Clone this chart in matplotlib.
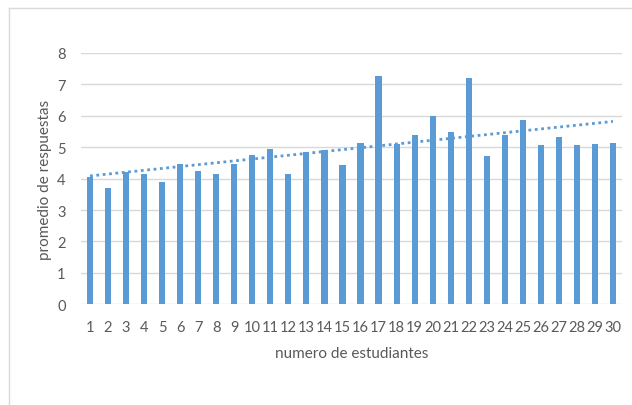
import numpy as np
import matplotlib.pyplot as plt
from matplotlib.lines import Line2D

plt.rcParams['font.family'] = ['Lato', 'DejaVu Sans']

# promedio de respuestas por estudiante
estudiantes = list(range(1, 31))
promedio = [4.04, 3.69, 4.20, 4.16, 3.88, 4.46, 4.25, 4.16, 4.48, 4.75,
            4.94, 4.16, 4.86, 4.91, 4.43, 5.12, 7.26, 5.10, 5.40, 5.98,
            5.49, 7.20, 4.72, 5.38, 5.87, 5.08, 5.33, 5.08, 5.10, 5.14]

azul = '#5B9BD5'
gris_texto = '#595959'

fig = plt.figure(figsize=(6.32, 4.06), dpi=100)
ax = fig.add_axes([81 / 632, 1 - 305.3 / 406, (622 - 81) / 632, (305.3 - 54) / 406])

x = np.array(estudiantes)
y = np.array(promedio)
ax.bar(x, y, width=0.34, color=azul, zorder=2)

# linea de tendencia lineal
m, b = np.polyfit(x, y, 1)
ax.plot([x[0], x[-1]], [m * x[0] + b, m * x[-1] + b], color=azul,
        lw=2, linestyle=(0, (1, 1.3)), zorder=3)

ax.set_xlim(0.5, 30.5)
ax.set_ylim(0, 8)
ax.set_yticks(range(0, 9))
ax.set_xticks(x)
ax.set_xticklabels([str(v) for v in estudiantes])
ax.grid(axis='y', color='#D9D9D9', lw=1, zorder=0)
for s in ax.spines.values():
    s.set_visible(False)
ax.tick_params(length=0, colors=gris_texto, labelsize=10.5)
ax.tick_params(axis='y', pad=11)
ax.tick_params(axis='x', pad=11)

ax.set_xlabel('numero de estudiantes', color=gris_texto, fontsize=11, labelpad=9)
ax.set_ylabel('promedio de respuestas', color=gris_texto, fontsize=11, labelpad=4)

# marco del area del grafico
fig.add_artist(Line2D([9 / 632, 9 / 632], [0, 1 - 9 / 406], color='#D9D9D9', lw=1,
                      transform=fig.transFigure))
fig.add_artist(Line2D([9 / 632, 1], [1 - 9 / 406, 1 - 9 / 406], color='#D9D9D9', lw=1,
                      transform=fig.transFigure))

fig.savefig('out.png', dpi=100)
